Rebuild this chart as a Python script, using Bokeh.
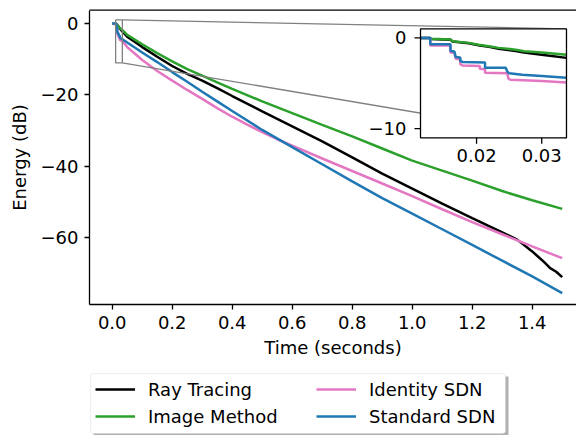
import numpy as np
from bokeh.plotting import figure
from bokeh.models import Range1d, FixedTicker, Legend, LegendItem, BoxAnnotation
from bokeh.embed import file_html
from bokeh.resources import INLINE

# ---------------- data ----------------
series_names = ["Ray Tracing", "Image Method", "Identity SDN", "Standard SDN"]
series_colors = ["#000000", "#2ca02c", "#e377c2", "#1f77b4"]

rt_t = [0.0, 0.0114, 0.0129, 0.0130, 0.0160, 0.0163, 0.0188, 0.0203, 0.0221, 0.0234,
        0.0260, 0.0273, 0.0300, 0.0338, 0.05, 0.1, 0.15, 0.2, 0.25, 0.3,
        0.35, 0.4, 0.5, 0.6, 0.7, 0.8, 0.9, 1.0, 1.1, 1.2,
        1.3, 1.35, 1.4, 1.42, 1.44, 1.46, 1.48, 1.5]
rt_v = [0.0, 0.0, 0.0, -0.12, -0.2, -0.4, -0.6, -0.8, -1.0, -1.2,
        -1.45, -1.6, -1.85, -2.2, -3.7, -6.6, -9.3, -11.9, -14.1, -16.0,
        -18.1, -20.3, -24.6, -28.8, -33.0, -37.5, -42.0, -46.2, -50.4, -54.5,
        -58.5, -60.5, -63.8, -65.3, -66.8, -68.5, -69.5, -71.0]

im_t = [0.0, 0.0114, 0.0129, 0.0130, 0.0160, 0.0163, 0.0188, 0.0203, 0.0221, 0.0234,
        0.0260, 0.0273, 0.0300, 0.0338, 0.05, 0.1, 0.15, 0.2, 0.25, 0.3,
        0.35, 0.4, 0.5, 0.6, 0.7, 0.8, 0.9, 1.0, 1.1, 1.2,
        1.3, 1.4, 1.5]
im_v = [0.0, 0.0, 0.0, -0.1, -0.18, -0.36, -0.55, -0.75, -0.95, -1.1,
        -1.3, -1.47, -1.6, -1.85, -3.2, -5.8, -8.3, -10.6, -12.8, -14.6,
        -16.5, -18.3, -21.8, -25.1, -28.4, -31.6, -35.0, -38.4, -41.2, -44.0,
        -46.9, -49.5, -51.9]

id_t = [0.0, 0.0114, 0.0129, 0.0129, 0.0160, 0.0160, 0.0166, 0.0168, 0.0175, 0.0175,
        0.0179, 0.0205, 0.0205, 0.0213, 0.0213, 0.0247, 0.0249, 0.0252, 0.0300, 0.0338,
        0.05, 0.075, 0.1, 0.15, 0.2, 0.25, 0.3, 0.35, 0.4, 0.45,
        0.5, 0.55, 0.6, 0.7, 0.8, 0.9, 1.0, 1.1, 1.2, 1.3,
        1.4, 1.5]
id_v = [0.0, 0.0, 0.0, -0.85, -0.85, -1.6, -1.65, -2.3, -2.35, -2.9,
        -3.05, -3.1, -3.4, -3.45, -3.85, -3.9, -4.5, -4.6, -4.75, -4.9,
        -6.6, -8.4, -10.2, -13.3, -16.0, -18.6, -21.1, -23.7, -26.1, -28.3,
        -30.4, -32.4, -34.2, -37.8, -41.3, -44.8, -48.3, -52.0, -55.6, -59.0,
        -62.4, -65.7]

sd_t = [0.0, 0.0114, 0.0129, 0.0129, 0.0160, 0.0160, 0.0166, 0.0168, 0.0175, 0.0175,
        0.0179, 0.0213, 0.0213, 0.0245, 0.0247, 0.0250, 0.0270, 0.0300, 0.0338, 0.05,
        0.1, 0.15, 0.2, 0.25, 0.3, 0.35, 0.4, 0.5, 0.6, 0.7,
        0.8, 0.9, 1.0, 1.1, 1.2, 1.3, 1.4, 1.5]
sd_v = [0.0, 0.0, 0.0, -0.7, -0.7, -1.45, -1.5, -2.1, -2.15, -2.55,
        -2.65, -2.7, -3.3, -3.3, -3.7, -3.9, -4.05, -4.2, -4.4, -5.3,
        -8.1, -10.8, -13.6, -16.3, -19.1, -21.8, -24.5, -29.8, -34.6, -39.4,
        -44.2, -48.9, -53.2, -57.6, -62.0, -66.4, -70.8, -75.5]

x_ticks = [0.0, 0.2, 0.4, 0.6, 0.8, 1.0, 1.2, 1.4]
x_tick_labels = ["0.0", "0.2", "0.4", "0.6", "0.8", "1.0", "1.2", "1.4"]
y_ticks = [-60, -40, -20, 0]
y_tick_labels = ["\u221260", "\u221240", "\u221220", "0"]

inset_xlim = [0.0114, 0.0338]
inset_ylim = [-11.0, 1.0]
inset_x_ticks = [0.02, 0.03]
inset_x_tick_labels = ["0.02", "0.03"]
inset_y_ticks = [-10, 0]
inset_y_tick_labels = ["\u221210", "0"]

x_label = "Time (seconds)"
y_label = "Energy (dB)"

series = [(rt_t, rt_v), (im_t, im_v), (id_t, id_v), (sd_t, sd_v)]

# ---------------- layout constants ----------------
FONT = "DejaVu Sans"
FS = "18px"
LW = 2.5
SPINE = 1.3
GRAY = "#808080"

# main axes box (the right side runs past the picture's edge)
AX_LEFT, AX_RIGHT, AX_BOTTOM, AX_TOP = -0.0757, 1.575, -78.67, 3.72
# inset axes box, in main-data coordinates
INSET_BOX = dict(left=1.0277, right=1.5143, bottom=-32.0, top=-1.484)
# legend box, in main-data coordinates
LEG_BOX = dict(left=-0.0723, right=1.311, top=-97.98, bottom=-114.78)

p = figure(width=576, height=435, output_backend="svg", toolbar_location=None,
           x_range=Range1d(-0.37233, 1.54767), y_range=Range1d(-115.34, 6.439),
           min_border_left=0, min_border_right=0, min_border_top=0, min_border_bottom=0)
p.outline_line_color = None
p.grid.visible = False
p.background_fill_color = "white"
p.border_fill_color = "white"

for ax in (p.xaxis[0], p.yaxis[0]):
    ax.axis_line_color = "black"
    ax.axis_line_width = SPINE
    ax.major_tick_line_color = "black"
    ax.major_tick_line_width = SPINE
    ax.major_tick_out = 5
    ax.major_tick_in = 0
    ax.minor_tick_line_color = None
    ax.major_label_text_font = FONT
    ax.major_label_text_font_size = FS
    ax.major_label_text_color = "black"
    ax.major_label_standoff = 6
    ax.axis_label_text_font = FONT
    ax.axis_label_text_font_size = FS
    ax.axis_label_text_font_style = "normal"
    ax.axis_label_text_color = "black"

p.xaxis.fixed_location = AX_BOTTOM
p.xaxis.bounds = (AX_LEFT, AX_RIGHT)
p.xaxis.ticker = FixedTicker(ticks=x_ticks)
p.xaxis.major_label_overrides = dict(zip(x_ticks, x_tick_labels))
p.xaxis.axis_label = x_label
p.xaxis.axis_label_standoff = 5

p.yaxis.fixed_location = AX_LEFT
p.yaxis.bounds = (AX_BOTTOM, AX_TOP)
p.yaxis.ticker = FixedTicker(ticks=y_ticks)
p.yaxis.major_label_overrides = dict(zip(y_ticks, y_tick_labels))
p.yaxis.axis_label = y_label
p.yaxis.axis_label_standoff = 8

# top spine
p.segment(x0=[AX_LEFT], y0=[AX_TOP], x1=[AX_RIGHT], y1=[AX_TOP], line_color="black", line_width=SPINE)

# main curves
renderers = []
for (t, v), c in zip(series, series_colors):
    renderers.append(p.line(t, v, line_color=c, line_width=LW))

# zoom rectangle and connector lines
p.quad(left=[inset_xlim[0]], right=[inset_xlim[1]], bottom=[inset_ylim[0]], top=[inset_ylim[1]],
       fill_color=None, line_color=GRAY, line_width=SPINE)
p.segment(x0=[inset_xlim[1], inset_xlim[1]], y0=[inset_ylim[1], inset_ylim[0]],
          x1=[INSET_BOX["right"], INSET_BOX["right"]], y1=[INSET_BOX["top"], INSET_BOX["bottom"]],
          line_color=GRAY, line_width=SPINE)

# inset background
p.quad(left=[INSET_BOX["left"]], right=[INSET_BOX["right"]], bottom=[INSET_BOX["bottom"]],
       top=[INSET_BOX["top"]], fill_color="white", line_color=None)

sub = p.subplot(x_source=Range1d(*inset_xlim), y_source=Range1d(*inset_ylim),
                x_target=Range1d(INSET_BOX["left"], INSET_BOX["right"]),
                y_target=Range1d(INSET_BOX["bottom"], INSET_BOX["top"]))

for (t, v), c in zip(series, series_colors):
    t = np.asarray(t)
    v = np.asarray(v)
    m = (t >= inset_xlim[0]) & (t <= inset_xlim[1])
    sub.line(t[m], v[m], line_color=c, line_width=LW)

# inset frame
p.quad(left=[INSET_BOX["left"]], right=[INSET_BOX["right"]], bottom=[INSET_BOX["bottom"]],
       top=[INSET_BOX["top"]], fill_color=None, line_color="black", line_width=SPINE)

# inset ticks and tick labels
sub.ray(x=[inset_xlim[0]] * len(inset_y_ticks), y=inset_y_ticks, length=6, length_units="screen",
        angle=np.pi, line_color="black", line_width=SPINE)
sub.ray(x=inset_x_ticks, y=[inset_ylim[0]] * len(inset_x_ticks), length=6, length_units="screen",
        angle=-np.pi / 2, line_color="black", line_width=SPINE)
sub.text(x=[inset_xlim[0]] * len(inset_y_ticks), y=inset_y_ticks, text=inset_y_tick_labels,
         x_offset=-14, text_align="right", text_baseline="middle",
         text_font={"value": FONT}, text_font_size={"value": FS}, text_color="black")
sub.text(x=inset_x_ticks, y=[inset_ylim[0]] * len(inset_x_ticks), text=inset_x_tick_labels,
         y_offset=11, text_align="center", text_baseline="top",
         text_font={"value": FONT}, text_font_size={"value": FS}, text_color="black")

# legend: shadow, frame, then two columns
p.add_layout(BoxAnnotation(left=LEG_BOX["left"] + 0.01, right=LEG_BOX["right"] + 0.01,
                           top=LEG_BOX["top"] - 0.84, bottom=LEG_BOX["bottom"] - 0.84,
                           fill_color="#b0b0b0", fill_alpha=1.0, line_color=None))
p.add_layout(BoxAnnotation(left=LEG_BOX["left"], right=LEG_BOX["right"],
                           top=LEG_BOX["top"], bottom=LEG_BOX["bottom"],
                           fill_color="white", fill_alpha=1.0, line_color="#cccccc",
                           line_width=1.2, border_radius=3))

def make_legend(items, loc):
    return Legend(items=items, location=loc, orientation="vertical",
                  glyph_width=40, glyph_height=24, label_height=24, label_standoff=13,
                  spacing=3, padding=0, margin=0,
                  background_fill_alpha=0, border_line_color=None,
                  label_text_font=FONT, label_text_font_size=FS, label_text_color="black")

leg1 = make_legend([LegendItem(label=series_names[0], renderers=[renderers[0]]),
                    LegendItem(label=series_names[1], renderers=[renderers[1]])], (95, 7))
leg2 = make_legend([LegendItem(label=series_names[2], renderers=[renderers[2]]),
                    LegendItem(label=series_names[3], renderers=[renderers[3]])], (316, 7))
p.add_layout(leg1)
p.add_layout(leg2)

open("out.html", "w").write(file_html(p, INLINE))
